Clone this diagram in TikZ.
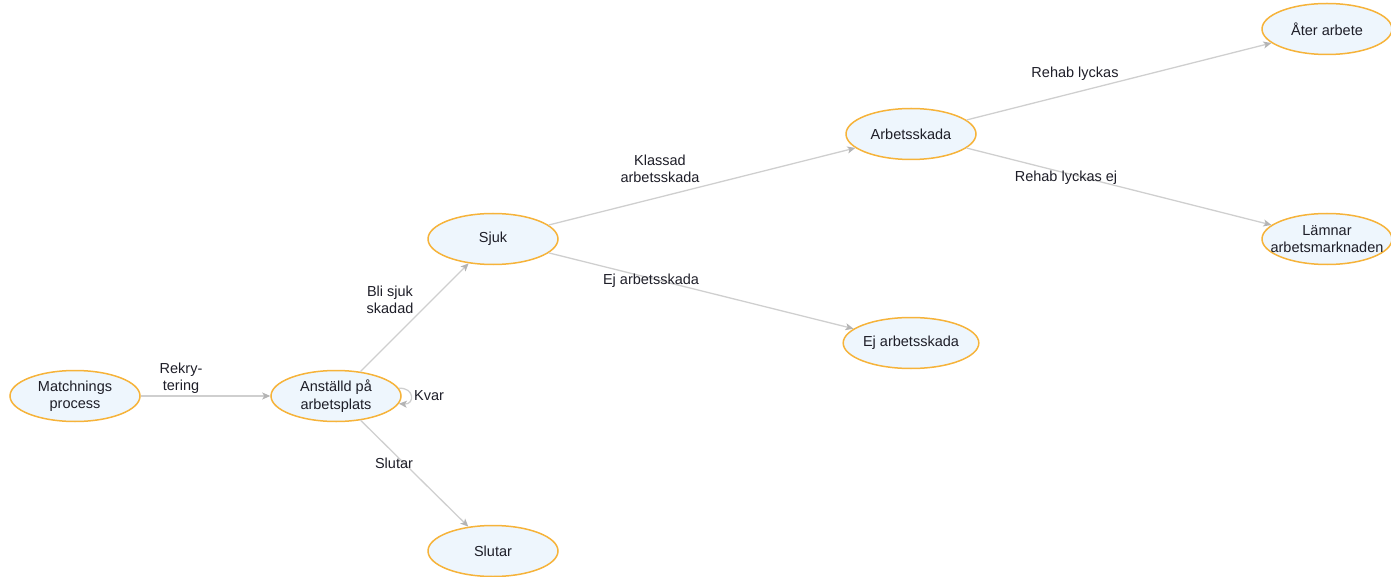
\documentclass[tikz,border=0pt]{standalone}
\usepackage{fontspec}
\setmainfont{Liberation Sans}
\usetikzlibrary{arrows.meta,shapes.geometric}
\definecolor{elfill}{HTML}{EEF6FD}
\definecolor{elline}{HTML}{F6B33A}
\definecolor{conline}{HTML}{CFCFCF}
\definecolor{tipgrey}{HTML}{B4B4B4}
\definecolor{txt}{HTML}{1E1E28}
\begin{document}
\begin{tikzpicture}[x=1pt,y=-1pt,
    el/.style={ellipse,draw=elline,fill=elfill,line width=1.5pt,minimum width=130pt,
        minimum height=51pt,inner sep=0pt,align=center,text=txt,
        font=\fontsize{14.5}{17.5}\selectfont},
    lb/.style={align=center,inner sep=0pt,text=txt,font=\fontsize{14.5}{17.5}\selectfont},
    ar/.style={draw=conline,line width=1.3pt,-{Stealth[length=8pt,width=7pt,inset=2pt,color=tipgrey]}}]
    \useasboundingbox (0,0) rectangle (1391,577);
    % states
    \node[el] (match) at (75,396) {Matchnings\\process};
    \node[el] (anst) at (336,396) {Anställd på\\arbetsplats};
    \node[el] (sjuk) at (493,239) {Sjuk};
    \node[el] (slut) at (493,551) {Slutar};
    \node[el] (askada) at (911,134) {Arbetsskada};
    \node[el] (ejskada) at (911,343) {Ej arbetsskada};
    \node[el] (ater) at (1327,29) {Åter arbete};
    \node[el] (lamnar) at (1327,239) {Lämnar\\\makebox[0pt]{arbetsmarknaden}};
    % transitions
    \foreach \A/\B in {match/anst,anst/sjuk,anst/slut,sjuk/askada,sjuk/ejskada,askada/ater,askada/lamnar}
        \draw[ar] (\A) -- (\B);
    \draw[ar] (anst.7) .. controls +(16,-1) and +(16,1) .. (anst.-7);
    % labels
    \node[lb] (lrek) at (181,378) {Rekry-\\tering};
    \node[lb] (lbli) at (390,300) {Bli sjuk\\skadad};
    \node[lb] (lkvar) at (429,396) {Kvar};
    \node[lb] (lslut) at (394,463) {Slutar};
    \node[lb] (lklass) at (660,169) {Klassad\\arbetsskada};
    \node[lb] (lej) at (651,281) {Ej arbetsskada};
    \node[lb] (lrehab) at (1075,74) {Rehab lyckas};
    \node[lb] (lrehabej) at (1066,178) {Rehab lyckas ej};
\end{tikzpicture}
\end{document}
